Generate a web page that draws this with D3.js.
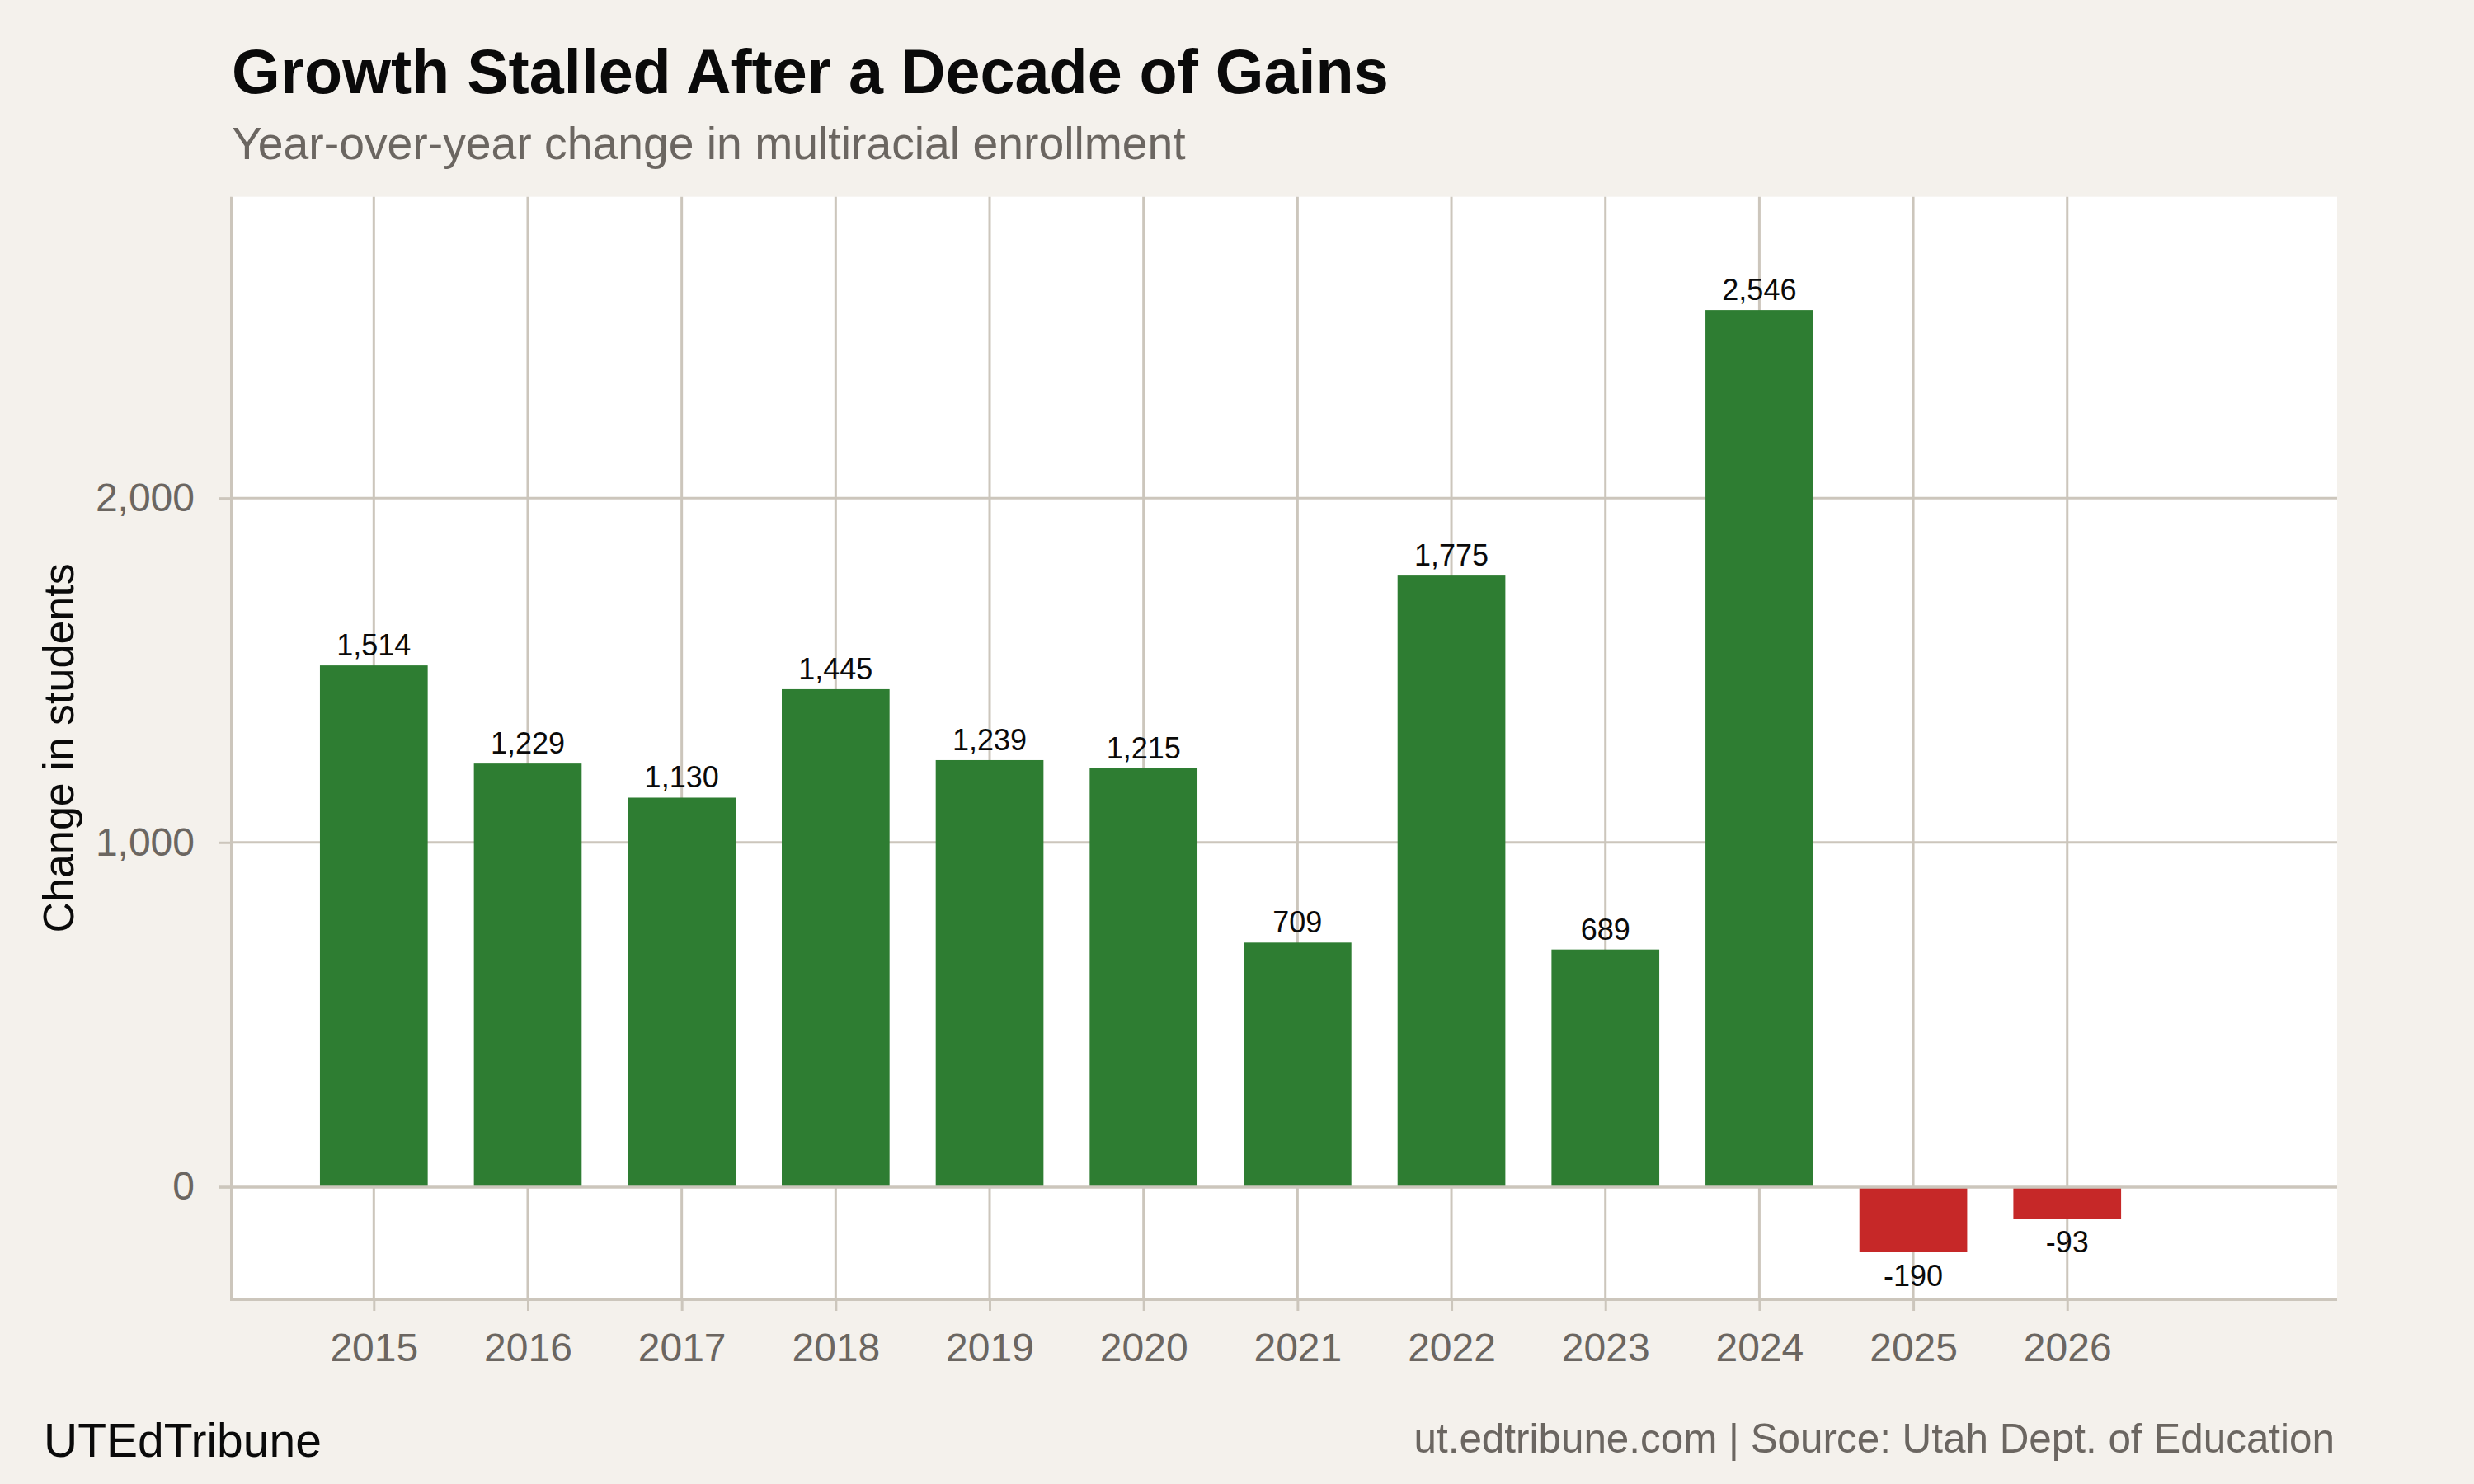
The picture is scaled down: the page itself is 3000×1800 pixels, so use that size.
<!DOCTYPE html>
<html>
<head>
<meta charset="utf-8">
<script src="https://cdn.jsdelivr.net/npm/d3@7"></script>
<style>
  html, body { margin: 0; padding: 0; background: #f4f1ec; }
  svg { display: block; font-family: "Liberation Sans", Arial, Helvetica, sans-serif; }
</style>
</head>
<body>
<svg id="chart" width="3000" height="1800"></svg>
<script>
// ---- Data ----
const years = [2015, 2016, 2017, 2018, 2019, 2020, 2021, 2022, 2023, 2024, 2025, 2026];
const changes = [1514, 1229, 1130, 1445, 1239, 1215, 709, 1775, 689, 2546, -190, -93];
const yTickValues = [0, 1000, 2000];

const titleText = "Growth Stalled After a Decade of Gains";
const subtitleText = "Year-over-year change in multiracial enrollment";
const yAxisTitle = "Change in students";
const brandText = "UTEdTribune";
const sourceText = "ut.edtribune.com | Source: Utah Dept. of Education";

// ---- Layout ----
const W = 3000, H = 1800;
const panel = { left: 281, right: 2834, top: 238.7, bottom: 1576 };
const colors = {
  bg: "#f4f1ec", panel: "#ffffff", grid: "#ccc6bc",
  pos: "#2e7d32", neg: "#c62828", tick: "#6b6661", text: "#0a0a0a"
};

const svg = d3.select("#chart");

const x = d3.scaleLinear().domain([2014.077, 2027.753]).range([panel.left, panel.right]);
const y = d3.scaleLinear().domain([-327, 2875]).range([panel.bottom, panel.top]);
const barW = x(2015.7) - x(2015);

svg.append("rect").attr("width", W).attr("height", H).attr("fill", colors.bg);
svg.append("rect")
  .attr("x", panel.left).attr("y", panel.top)
  .attr("width", panel.right - panel.left).attr("height", panel.bottom - panel.top)
  .attr("fill", colors.panel);

// vertical gridlines
svg.append("g").selectAll("line").data(years).join("line")
  .attr("x1", d => x(d)).attr("x2", d => x(d))
  .attr("y1", panel.top).attr("y2", panel.bottom)
  .attr("stroke", colors.grid).attr("stroke-width", 3);

// horizontal gridlines
svg.append("g").selectAll("line").data(yTickValues.filter(v => v !== 0)).join("line")
  .attr("x1", panel.left).attr("x2", panel.right)
  .attr("y1", d => y(d)).attr("y2", d => y(d))
  .attr("stroke", colors.grid).attr("stroke-width", 3);

// bars
const data = years.map((yr, i) => ({ year: yr, value: changes[i] }));
svg.append("g").selectAll("rect").data(data).join("rect")
  .attr("x", d => x(d.year) - barW / 2)
  .attr("width", barW)
  .attr("y", d => y(Math.max(0, d.value)))
  .attr("height", d => Math.abs(y(d.value) - y(0)))
  .attr("fill", d => d.value >= 0 ? colors.pos : colors.neg);

// zero line
svg.append("line")
  .attr("x1", panel.left - 15).attr("x2", panel.right)
  .attr("y1", y(0)).attr("y2", y(0))
  .attr("stroke", colors.grid).attr("stroke-width", 4.4);

// bar labels (hyphen minus as in the reference)
const fmtBase = d3.format(",");
const fmt = v => fmtBase(v).replace("\u2212", "-");
svg.append("g").selectAll("text").data(data).join("text")
  .attr("x", d => x(d.year))
  .attr("y", d => d.value >= 0 ? y(d.value) - 12 : y(d.value) + 41)
  .attr("text-anchor", "middle")
  .attr("font-size", 36)
  .attr("fill", colors.text)
  .text(d => fmt(d.value));

// Y axis
const yAxis = d3.axisLeft(y).tickValues(yTickValues).tickFormat(fmt).tickSize(15).tickPadding(30);
const gy = svg.append("g").attr("transform", `translate(${panel.left},0)`).call(yAxis);
gy.select(".domain").remove();
gy.selectAll(".tick line").attr("stroke", colors.grid).attr("stroke-width", 3);
gy.selectAll(".tick text")
  .attr("font-size", 48).attr("fill", colors.tick)
  .attr("font-family", "'Liberation Sans', Arial, Helvetica, sans-serif");

// X axis
const xAxis = d3.axisBottom(x).tickValues(years).tickFormat(d3.format("d")).tickSize(14).tickPadding(27);
const gx = svg.append("g").attr("transform", `translate(0,${panel.bottom})`).call(xAxis);
gx.select(".domain").remove();
gx.selectAll(".tick line").attr("stroke", colors.grid).attr("stroke-width", 3);
gx.selectAll(".tick text")
  .attr("font-size", 48).attr("fill", colors.tick)
  .attr("font-family", "'Liberation Sans', Arial, Helvetica, sans-serif");

// axis lines
svg.append("line")
  .attr("x1", panel.left).attr("x2", panel.left)
  .attr("y1", panel.top).attr("y2", panel.bottom + 2)
  .attr("stroke", colors.grid).attr("stroke-width", 4);
svg.append("line")
  .attr("x1", panel.left - 2).attr("x2", panel.right)
  .attr("y1", panel.bottom).attr("y2", panel.bottom)
  .attr("stroke", colors.grid).attr("stroke-width", 4);

// y axis title
svg.append("text")
  .attr("transform", `translate(89,${(panel.top + panel.bottom) / 2}) rotate(-90)`)
  .attr("text-anchor", "middle")
  .attr("font-size", 52)
  .attr("fill", colors.text)
  .text(yAxisTitle);

// title & subtitle
svg.append("text")
  .attr("x", 281).attr("y", 113)
  .attr("font-size", 75.5).attr("font-weight", "bold")
  .attr("fill", colors.text)
  .text(titleText);
svg.append("text")
  .attr("x", 281).attr("y", 193)
  .attr("font-size", 55.3)
  .attr("fill", colors.tick)
  .text(subtitleText);

// footer
svg.append("text")
  .attr("x", 53).attr("y", 1767)
  .attr("font-size", 57)
  .attr("fill", colors.text)
  .text(brandText);
svg.append("text")
  .attr("x", 2831).attr("y", 1762)
  .attr("text-anchor", "end")
  .attr("font-size", 49.4)
  .attr("fill", colors.tick)
  .text(sourceText);
</script>
</body>
</html>
